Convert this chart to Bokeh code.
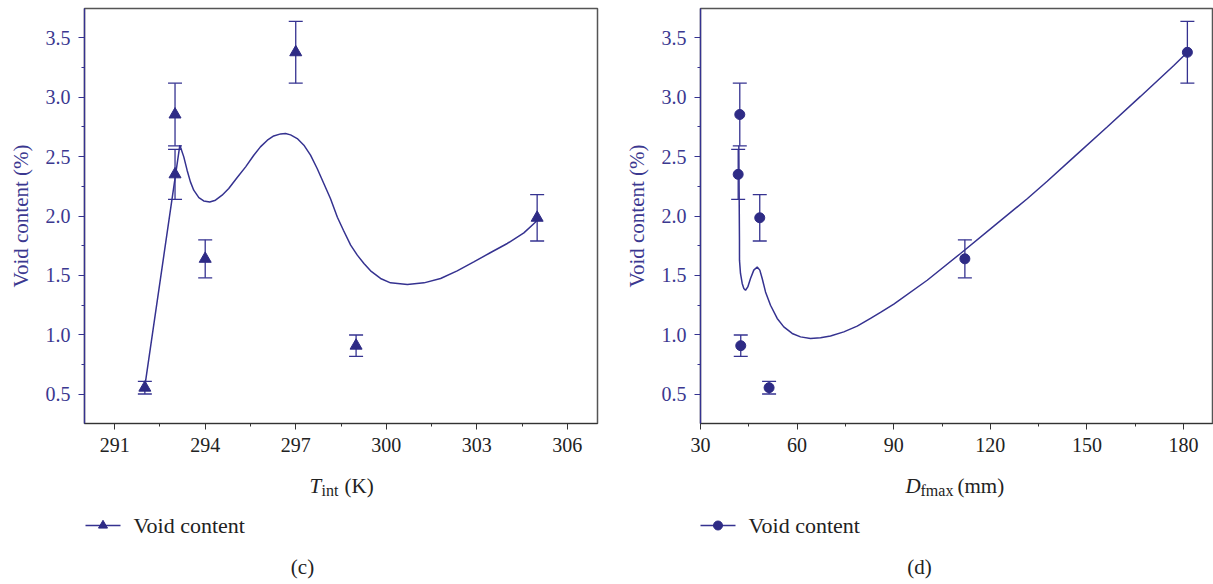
from bokeh.plotting import figure
from bokeh.models import (FixedTicker, Whisker, TeeHead, ColumnDataSource,
                          Range1d, PrintfTickFormatter)
from bokeh.layouts import row, column
from bokeh.embed import file_html
from bokeh.resources import INLINE
from bokeh.core.properties import value

# ---------------- data ----------------
void_content = [0.557, 2.853, 2.35, 1.64, 3.376, 0.91, 1.985]
void_err = [0.053, 0.263, 0.21, 0.16, 0.26, 0.09, 0.195]

t_int = [292, 293, 293, 294, 297, 299, 305]
d_fmax = [51.3, 42.2, 41.7, 112.1, 181.2, 42.5, 48.4]

# fitted curves
curve_c_x = [292.0, 293.16, 293.29, 293.40, 293.51, 293.62, 293.79, 293.95, 294.15,
             294.34, 294.56, 294.78, 295.06, 295.34, 295.61, 295.83, 296.06, 296.27,
             296.50, 296.66, 296.83, 297.05, 297.27, 297.49, 297.71, 297.93, 298.15,
             298.38, 298.58, 298.82, 299.04, 299.26, 299.48, 299.81, 300.14, 300.70,
             301.25, 301.80, 302.35, 302.90, 303.46, 304.01, 304.56, 304.95, 305.0]
curve_c_y = [0.57, 2.595, 2.497, 2.385, 2.287, 2.217, 2.155, 2.127, 2.118,
             2.133, 2.175, 2.231, 2.324, 2.413, 2.511, 2.581, 2.637, 2.673,
             2.690, 2.693, 2.682, 2.651, 2.595, 2.511, 2.399, 2.273, 2.147,
             1.99, 1.88, 1.755, 1.671, 1.601, 1.539, 1.475, 1.438, 1.424,
             1.438, 1.475, 1.539, 1.614, 1.693, 1.769, 1.858, 1.950, 1.985]

curve_d_x = [41.9, 42.0, 42.1, 42.11, 42.42, 42.95, 43.45, 43.98, 44.69, 45.53,
             46.55, 47.61, 48.42, 49.16, 50.19, 51.74, 53.82, 55.87, 58.47, 61.06,
             64.16, 67.27, 70.37, 74.50, 78.66, 82.80, 85.90, 90.03, 100.4, 110.75,
             121.09, 131.46, 137.67, 145.93, 156.28, 166.63, 176.99, 181.2]
curve_d_y = [2.59, 2.2, 1.8, 1.629, 1.517, 1.433, 1.391, 1.376, 1.404, 1.475,
             1.545, 1.572, 1.545, 1.475, 1.362, 1.250, 1.139, 1.068, 1.013, 0.984,
             0.971, 0.976, 0.992, 1.026, 1.074, 1.139, 1.19, 1.26, 1.46, 1.685,
             1.915, 2.145, 2.292, 2.495, 2.748, 3.005, 3.265, 3.376]

x_ticks_c = [291, 294, 297, 300, 303, 306]
x_minor_c = [292.5, 295.5, 298.5, 301.5, 304.5]
x_ticks_d = [30, 60, 90, 120, 150, 180]
x_minor_d = [45, 75, 105, 135, 165]
y_ticks = [0.5, 1.0, 1.5, 2.0, 2.5, 3.0, 3.5]
y_minor = [0.75, 1.25, 1.75, 2.25, 2.75, 3.25]

legend_label = "Void content"
y_label = "Void content (%)"

BLUE = "#353290"
MARK = "#2E2B85"
TXT_BLUE = "#3B3890"
BLACK = "#222222"
FONT = "'Liberation Serif', 'Times New Roman', 'DejaVu Serif', serif"
TOP_H = 465
TOTAL_H = 584


def make_panel(xs, curve_x, curve_y, x_range, xt, xm, marker, msize,
               width, left_b, right_b):
    p = figure(width=width, height=TOP_H, output_backend="svg", toolbar_location=None,
               x_range=Range1d(*x_range), y_range=Range1d(0.256, 3.744),
               min_border_left=left_b, min_border_right=right_b,
               min_border_top=8, min_border_bottom=TOP_H - 8 - 415)
    p.grid.visible = False
    p.outline_line_color = "#555555"
    p.outline_line_width = 1.5

    src = ColumnDataSource(dict(x=xs, y=void_content,
                                upper=[v + e for v, e in zip(void_content, void_err)],
                                lower=[v - e for v, e in zip(void_content, void_err)]))
    w = Whisker(source=src, base="x", upper="upper", lower="lower", dimension="height",
                line_color=BLUE, line_width=1.3,
                upper_head=TeeHead(size=14, line_color=BLUE, line_width=1.3),
                lower_head=TeeHead(size=14, line_color=BLUE, line_width=1.3))
    p.add_layout(w)
    p.line(curve_x, curve_y, line_color=BLUE, line_width=1.5)
    p.scatter("x", "y", source=src, marker=marker, size=msize,
              fill_color=MARK, line_color=MARK)

    p.xaxis.ticker = FixedTicker(ticks=xt, minor_ticks=xm)
    p.yaxis.ticker = FixedTicker(ticks=y_ticks, minor_ticks=y_minor)
    p.yaxis.formatter = PrintfTickFormatter(format="%.1f")
    for ax in (p.xaxis, p.yaxis):
        ax.major_tick_in = 0
        ax.major_tick_out = 6
        ax.minor_tick_in = 0
        ax.minor_tick_out = 3
        ax.major_label_text_font = FONT
        ax.major_label_text_font_size = "20px"
        ax.major_label_standoff = 8
    p.xaxis.axis_line_color = "#333333"
    p.xaxis.major_tick_line_color = "#333333"
    p.xaxis.minor_tick_line_color = "#333333"
    p.xaxis.major_label_text_color = BLACK
    p.yaxis.axis_line_color = BLUE
    p.yaxis.axis_line_width = 1.3
    p.yaxis.major_tick_line_color = BLUE
    p.yaxis.minor_tick_line_color = BLUE
    p.yaxis.major_label_text_color = TXT_BLUE
    p.yaxis.axis_label = y_label
    p.yaxis.axis_label_text_font = FONT
    p.yaxis.axis_label_text_font_size = "21px"
    p.yaxis.axis_label_text_font_style = "normal"
    p.yaxis.axis_label_text_color = TXT_BLUE
    p.yaxis.axis_label_standoff = 10
    return p


p1 = make_panel(t_int, curve_c_x, curve_c_y, (290, 307), x_ticks_c, x_minor_c,
                "triangle", 12, 610, 84, 13)
p2 = make_panel(d_fmax, curve_d_x, curve_d_y, (30, 189), x_ticks_d, x_minor_d,
                "circle", 10, 603, 90, 1)

# ---- bottom strip: x-axis titles, legends and captions (page pixel coordinates) ----
b = figure(width=1213, height=TOTAL_H - TOP_H, output_backend="svg",
           toolbar_location=None, x_range=Range1d(0, 1213),
           y_range=Range1d(TOTAL_H, TOP_H), x_axis_type=None, y_axis_type=None,
           min_border=0)
b.grid.visible = False
b.outline_line_color = None


def txt(x, y, s, size="21px", style="normal", align="left", baseline="alphabetic"):
    b.text(x=[x], y=[y], text=[s], text_font=value(FONT), text_font_size=size,
           text_font_style=style, text_color=BLACK, text_align=align,
           text_baseline=baseline)


# x-axis titles
txt(309, 485, "T", style="italic")
txt(321, 490, "int", size="16px")
txt(344, 485, "(K)")
txt(905, 485, "D", style="italic")
txt(920, 490, "fmax", size="16px")
txt(957, 485, "(mm)")

# legends
for (x0, mk, ms) in ((85, "triangle", 9), (700, "circle", 9)):
    b.segment(x0=[x0], y0=[525], x1=[x0 + 35], y1=[525], line_color=BLUE, line_width=1.5)
    b.scatter(x=[x0 + 17.5], y=[525], marker=mk, size=ms, fill_color=MARK, line_color=MARK)
    txt(x0 + 48, 525, legend_label, size="22px", baseline="middle")

# captions
txt(302, 566, "(c)", align="center", baseline="middle")
txt(919, 566, "(d)", align="center", baseline="middle")

layout = column(row(p1, p2, spacing=0), b, spacing=0)
open("out.html", "w").write(file_html(layout, INLINE))
